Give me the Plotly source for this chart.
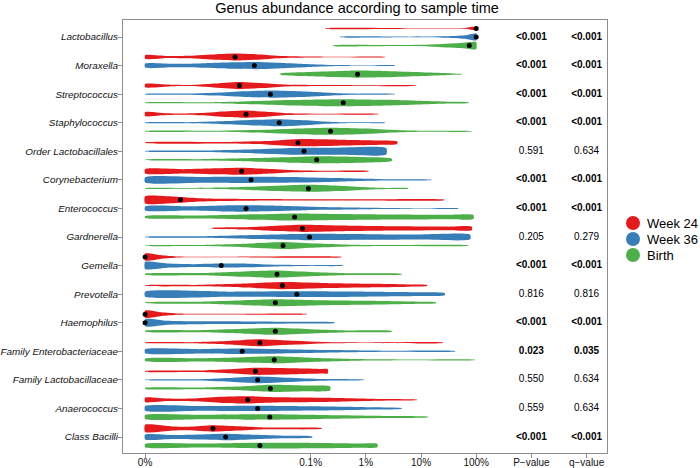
import plotly.graph_objects as go

# ---------------- data ----------------
genera = ["Lactobacillus", "Moraxella", "Streptococcus", "Staphylococcus",
          "Order Lactobacillales", "Corynebacterium", "Enterococcus", "Gardnerella",
          "Gemella", "Prevotella", "Haemophilus", "Family Enterobacteriaceae",
          "Family Lactobacillaceae", "Anaerococcus", "Class Bacilli"]
groups = ["Week 24", "Week 36", "Birth"]

# positions are log10(abundance % + 1e-4): 0% -> -4, 0.1% -> -1, 1% -> 0, 100% -> 2
week24_median = [2.0, -2.37, -2.29, -2.17, -1.23, -2.25, -3.36, -1.15, -4.0, -1.51, -4.0, -1.92, -2.0, -2.14, -2.77]
week36_median = [2.0, -2.02, -1.73, -1.57, -1.12, -2.08, -2.17, -1.02, -2.62, -1.25, -4.0, -2.24, -1.96, -1.96, -2.54]
birth_median = [1.875, -0.15, -0.41, -0.64, -0.89, -1.04, -1.29, -1.50, -1.61, -1.64, -1.64, -1.66, -1.73, -1.74, -1.92]

# density profiles: (position, relative density)
week24_profile = [
    [(-0.74, 0.05), (1.0, 0.08), (1.8, 0.12), (1.93, 0.45), (2.0, 0.45)],
    [(-4, 0.5), (-3.6, 0.25), (-3.2, 0.35), (-2.7, 0.8), (-2.37, 1.0), (-2.0, 0.8), (-1.5, 0.3), (-1.0, 0.15), (-0.5, 0.08), (0.35, 0.04)],
    [(-4, 0.45), (-3.5, 0.2), (-3.2, 0.15), (-2.8, 0.5), (-2.3, 1.0), (-1.9, 0.7), (-1.5, 0.3), (-0.8, 0.15), (0.0, 0.1), (0.91, 0.06)],
    [(-4, 0.55), (-3.7, 0.3), (-3.4, 0.15), (-3.0, 0.3), (-2.5, 0.8), (-2.17, 1.0), (-1.8, 0.7), (-1.4, 0.25), (-0.8, 0.12), (0.23, 0.06)],
    [(-4, 0.1), (-2.5, 0.2), (-1.8, 0.5), (-1.23, 1.0), (-0.5, 0.85), (0.3, 0.6), (0.57, 0.35)],
    [(-4, 0.6), (-3.3, 0.6), (-2.7, 0.85), (-2.25, 1.0), (-1.8, 0.7), (-1.3, 0.3), (-0.7, 0.15), (0.05, 0.08)],
    [(-4, 1.0), (-3.6, 1.0), (-3.36, 0.8), (-3.0, 0.45), (-2.6, 0.3), (-1.5, 0.2), (0.0, 0.15), (1.42, 0.08)],
    [(-2.79, 0.1), (-2.2, 0.3), (-1.6, 0.75), (-1.15, 1.0), (-0.5, 0.8), (0.5, 0.6), (1.5, 0.5), (1.92, 0.5)],
    [(-4, 1.0), (-3.7, 0.5), (-3.4, 0.15), (-2.5, 0.1), (-0.44, 0.05)],
    [(-4, 0.08), (-3.0, 0.2), (-2.2, 0.55), (-1.51, 1.0), (-0.8, 0.75), (0.2, 0.5), (0.8, 0.3), (1.11, 0.15)],
    [(-4, 1.0), (-3.7, 0.5), (-3.4, 0.15), (-2.5, 0.08), (-1.07, 0.04)],
    [(-4, 0.05), (-3.2, 0.15), (-2.5, 0.5), (-1.92, 1.0), (-1.4, 0.6), (-0.8, 0.2), (0.0, 0.08), (1.40, 0.04)],
    [(-4, 0.1), (-3.0, 0.2), (-2.5, 0.55), (-2.0, 1.0), (-1.3, 0.85), (-0.8, 0.65), (-0.69, 0.6)],
    [(-4, 0.6), (-3.6, 0.35), (-3.1, 0.4), (-2.6, 0.85), (-2.14, 1.0), (-1.5, 0.7), (-0.5, 0.5), (0.2, 0.25), (0.93, 0.06)],
    [(-4, 1.0), (-3.5, 0.55), (-3.2, 0.5), (-2.77, 0.9), (-2.3, 0.6), (-1.8, 0.25), (-0.80, 0.1)],
]
week36_profile = [
    [(-0.47, 0.05), (0.8, 0.1), (1.4, 0.2), (1.8, 0.5), (1.97, 1.0), (2.0, 1.0)],
    [(-4, 0.55), (-3.5, 0.5), (-3.0, 0.6), (-2.4, 0.9), (-2.0, 1.0), (-1.6, 0.8), (-1.0, 0.4), (-0.5, 0.15), (0.0, 0.08), (0.53, 0.04)],
    [(-4, 0.08), (-3.3, 0.15), (-2.7, 0.4), (-2.2, 0.8), (-1.73, 1.0), (-1.2, 0.8), (-0.6, 0.35), (-0.2, 0.15), (0.53, 0.05)],
    [(-4, 0.05), (-3.2, 0.15), (-2.5, 0.45), (-2.0, 0.8), (-1.57, 1.0), (-1.1, 0.7), (-0.7, 0.3), (-0.2, 0.1), (0.35, 0.05)],
    [(-4, 0.08), (-3.0, 0.2), (-2.0, 0.6), (-1.3, 0.95), (-0.5, 1.0), (0.37, 0.9)],
    [(-4, 0.75), (-3.0, 0.8), (-2.08, 0.85), (-1.2, 0.75), (-0.5, 0.5), (0.3, 0.2), (1.19, 0.05)],
    [(-4, 0.55), (-3.2, 0.6), (-2.6, 0.85), (-2.17, 0.9), (-1.6, 0.75), (-0.8, 0.4), (0.0, 0.2), (1.0, 0.08), (1.68, 0.04)],
    [(-4, 0.08), (-3.0, 0.2), (-2.0, 0.55), (-1.02, 0.9), (0.0, 0.8), (1.0, 0.7), (1.89, 0.65)],
    [(-4, 1.0), (-3.6, 0.6), (-3.1, 0.4), (-2.62, 0.55), (-2.1, 0.5), (-1.5, 0.2), (-1.0, 0.12), (-0.41, 0.06)],
    [(-4, 0.65), (-2.5, 0.7), (-1.25, 0.8), (0.0, 0.7), (1.0, 0.55), (1.43, 0.3)],
    [(-4, 1.0), (-3.6, 0.55), (-3.1, 0.4), (-2.0, 0.35), (-1.2, 0.25), (-0.56, 0.08)],
    [(-4, 0.55), (-3.0, 0.6), (-2.24, 0.75), (-1.5, 0.6), (-0.6, 0.35), (0.4, 0.15), (1.62, 0.05)],
    [(-4, 0.05), (-3.0, 0.2), (-2.4, 0.6), (-1.96, 0.95), (-1.4, 0.6), (-0.8, 0.25), (-0.03, 0.06)],
    [(-4, 0.65), (-3.0, 0.65), (-1.96, 0.75), (-1.0, 0.6), (0.0, 0.35), (0.65, 0.1)],
    [(-4, 0.7), (-3.5, 0.55), (-3.0, 0.7), (-2.54, 0.9), (-2.0, 0.6), (-1.5, 0.35), (-0.97, 0.15)],
]
birth_profile = [
    [(-0.59, 0.1), (0.6, 0.15), (1.2, 0.3), (1.7, 0.7), (1.9, 1.0), (2.0, 1.0)],
    [(-1.55, 0.15), (-1.2, 0.5), (-0.6, 0.8), (-0.15, 1.0), (0.3, 0.9), (0.9, 0.6), (1.4, 0.3), (1.6, 0.15), (1.74, 0.08)],
    [(-4, 0.05), (-3.0, 0.12), (-2.2, 0.35), (-1.4, 0.75), (-0.41, 1.0), (0.4, 0.8), (1.1, 0.45), (1.5, 0.25), (1.86, 0.1)],
    [(-4, 0.05), (-2.8, 0.15), (-1.8, 0.45), (-1.2, 0.8), (-0.64, 1.0), (0.0, 0.75), (0.5, 0.35), (1.0, 0.15), (1.92, 0.06)],
    [(-4, 0.05), (-3.0, 0.2), (-2.0, 0.5), (-1.3, 0.8), (-0.89, 1.0), (-0.3, 0.9), (0.2, 0.7), (0.47, 0.3)],
    [(-4, 0.05), (-3.2, 0.1), (-2.4, 0.3), (-1.6, 0.75), (-1.04, 1.0), (-0.5, 0.75), (0.0, 0.35), (0.4, 0.15), (0.77, 0.08)],
    [(-4, 0.25), (-3.0, 0.4), (-2.0, 0.75), (-1.29, 1.0), (-0.5, 0.85), (0.5, 0.7), (1.5, 0.6), (1.95, 0.55)],
    [(-4, 0.05), (-3.0, 0.15), (-2.2, 0.5), (-1.5, 1.0), (-0.9, 0.55), (-0.3, 0.25), (0.5, 0.15), (1.86, 0.06)],
    [(-4, 0.15), (-3.0, 0.3), (-2.2, 0.75), (-1.61, 1.0), (-1.0, 0.6), (-0.3, 0.25), (0.65, 0.1)],
    [(-4, 0.1), (-3.0, 0.3), (-2.2, 0.7), (-1.64, 1.0), (-0.8, 0.7), (0.3, 0.5), (1.0, 0.3), (1.27, 0.15)],
    [(-4, 0.15), (-3.0, 0.3), (-2.2, 0.7), (-1.64, 1.0), (-1.0, 0.6), (-0.3, 0.25), (0.47, 0.1)],
    [(-4, 0.35), (-3.0, 0.45), (-2.2, 0.75), (-1.66, 1.0), (-1.0, 0.6), (-0.2, 0.25), (0.8, 0.12), (1.98, 0.04)],
    [(-4, 0.15), (-3.0, 0.25), (-2.2, 0.6), (-1.73, 1.0), (-1.1, 0.8), (-0.65, 0.6)],
    [(-4, 0.55), (-3.0, 0.6), (-1.74, 0.75), (-0.8, 0.55), (0.3, 0.3), (1.13, 0.08)],
    [(-4, 0.45), (-3.0, 0.55), (-1.92, 0.8), (-0.8, 0.75), (-0.1, 0.6), (0.21, 0.5)],
]

p_values = ["<0.001", "<0.001", "<0.001", "<0.001", "0.591", "<0.001", "<0.001", "0.205",
            "<0.001", "0.816", "<0.001", "0.023", "0.550", "0.559", "<0.001"]
q_values = ["<0.001", "<0.001", "<0.001", "<0.001", "0.634", "<0.001", "<0.001", "0.279",
            "<0.001", "0.816", "<0.001", "0.035", "0.634", "0.634", "<0.001"]
significant = [True, True, True, True, False, True, True, False, True, False, True, True, False, False, True]

x_tickvals = [-4, -1, 0, 1, 2, 3, 4]
x_ticktext = ["0%", "0.1%", "1%", "10%", "100%", "P\u2212value", "q\u2212value"]

# ---------------- style ----------------
colors = ["#E41A1C", "#377EB8", "#4DAF4A"]
offsets = [-0.3, 0.0, 0.3]
half_width = 0.125
min_w = 0.06
FONT = "Liberation Sans, Arial, Helvetica, sans-serif"

fig = go.Figure()
profiles = [week24_profile, week36_profile, birth_profile]
medians = [week24_median, week36_median, birth_median]

for g in range(3):
    for i, prof in enumerate(profiles[g]):
        yc = i + offsets[g]
        ts = [p[0] for p in prof]
        ws = [max(p[1], min_w) for p in prof]
        xs = ts + ts[::-1] + [ts[0]]
        ys = [yc - w * half_width for w in ws] + [yc + w * half_width for w in ws[::-1]] + [yc - ws[0] * half_width]
        fig.add_trace(go.Scatter(x=xs, y=ys, mode="lines", fill="toself",
                                 fillcolor=colors[g], line=dict(width=0, color=colors[g], shape="spline", smoothing=0.6),
                                 hoverinfo="skip", showlegend=False))

for g in range(3):
    fig.add_trace(go.Scatter(x=medians[g], y=[i + offsets[g] for i in range(len(genera))],
                             mode="markers", marker=dict(color="black", size=5),
                             showlegend=False, hoverinfo="skip"))

fig.add_trace(go.Scatter(x=[3] * len(genera), y=list(range(len(genera))), mode="text",
                         text=[f"<b>{p}</b>" if s else p for p, s in zip(p_values, significant)],
                         textfont=dict(size=10, color="black", family=FONT), showlegend=False, hoverinfo="skip"))
fig.add_trace(go.Scatter(x=[4] * len(genera), y=list(range(len(genera))), mode="text",
                         text=[f"<b>{q}</b>" if s else q for q, s in zip(q_values, significant)],
                         textfont=dict(size=10, color="black", family=FONT), showlegend=False, hoverinfo="skip"))

# legend (drawn manually to match placement)
L, R, T, B = 123, 607, 20, 453
W, Hp = R - L, B - T
shapes = []
annotations = []
for k, (name, col) in enumerate(zip(groups, colors)):
    py = 223 + 16 * k
    yp = (B - py) / Hp
    shapes.append(dict(type="circle", xref="paper", yref="paper", xsizemode="pixel", ysizemode="pixel",
                       xanchor=(633 - L) / W, yanchor=yp, x0=-7, x1=7, y0=-7, y1=7,
                       fillcolor=col, line=dict(width=0)))
    annotations.append(dict(x=(645 - L) / W, y=yp, xref="paper", yref="paper", text=name, showarrow=False,
                            xanchor="left", yanchor="middle", font=dict(size=13, color="black", family=FONT)))

fig.update_layout(
    width=700, height=468,
    margin=dict(l=L, r=700 - R, t=T, b=468 - B),
    paper_bgcolor="white", plot_bgcolor="white",
    title=dict(text="Genus abundance according to sample time", x=357 / 700, xanchor="center",
               y=1 - 7.5 / 468, yanchor="middle", font=dict(size=14.5, color="black", family=FONT)),
    font=dict(family=FONT, color="black"),
    shapes=shapes, annotations=annotations,
    showlegend=False,
)
fig.update_xaxes(range=[-4.4, 4.37], tickvals=x_tickvals, ticktext=x_ticktext, showgrid=False, zeroline=False,
                 showline=True, mirror=True, linecolor="#8c8c8c", linewidth=1, ticks="outside", ticklen=4,
                 tickcolor="#8c8c8c", tickfont=dict(size=10, color="#111111", family=FONT), automargin=False,
                 ticklabelstandoff=-4)
fig.update_yaxes(range=[14.56, -0.595], tickvals=list(range(len(genera))),
                 ticktext=[f"<i>{g}</i>" for g in genera], showgrid=False, zeroline=False,
                 showline=True, mirror=True, linecolor="#8c8c8c", linewidth=1, ticks="outside", ticklen=4,
                 tickcolor="#8c8c8c", tickfont=dict(size=9.9, color="#111111", family=FONT), automargin=False,
                 ticklabelstandoff=-2)

fig.write_html("out.html", config={"displayModeBar": False},
               post_script="document.body.style.margin='0';document.body.style.overflow='hidden';")
